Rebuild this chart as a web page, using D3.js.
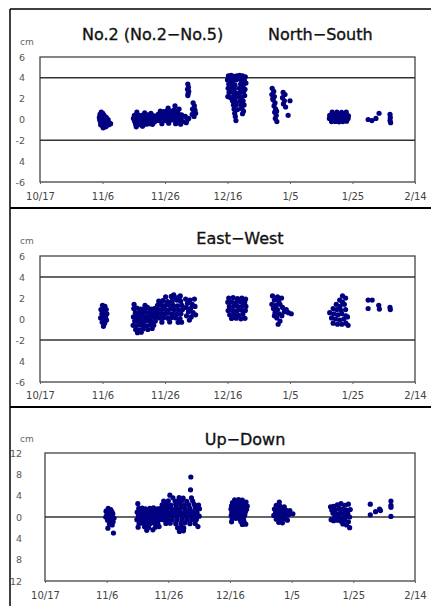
<!DOCTYPE html>
<html>
<head>
<meta charset="utf-8">
<script src="https://cdn.jsdelivr.net/npm/d3@7"></script>
<style>
  body { margin: 0; background: #fff; }
  svg { display: block; }
</style>
</head>
<body>
<script>
// 画布大小
var width = 431;
var height = 606;

// x轴：从 10/17 起的天数
var xTickDays = [0, 20, 40, 60, 80, 100, 120];
var xTickLabels = ['10/17', '11/6', '11/26', '12/16', '1/5', '1/25', '2/14'];

// y轴刻度
var hvTicks = [6, 4, 2, 0, -2, -4, -6];
var hvTickLabels = ['6', '4', '2', '0', '-2', '4', '-6'];
var udTicks = [12, 8, 4, 0, -4, -8, -12];
var udTickLabels = ['12', '8', '4', '0', '4', '8', '12'];

// [天数, cm]
var nsPoints = [
  [19.2,0.5],[19.6,0.7],[20.1,0.6],[20.5,0.4],[19.0,0.2],[19.5,0.1],[20.0,0.3],[20.8,0.1],[21.2,0.2],[19.3,-0.2],
  [19.8,-0.1],[20.4,-0.3],[21.0,-0.2],[21.6,-0.1],[22.1,-0.3],[19.4,-0.5],[20.0,-0.6],[20.6,-0.5],[21.3,-0.6],[22.0,-0.5],
  [22.6,-0.4],[20.2,-0.8],[21.0,-0.7],[19.1,0.0],[21.8,0.0],
  [30.2,0.4],[31.1,0.45],[32.0,0.38],[32.9,0.42],[33.8,0.36],[34.7,0.44],[35.6,0.4],[36.5,0.35],
  [29.9,0.1],[30.7,0.12],[31.6,0.08],[32.5,0.14],[33.4,0.1],[34.3,0.06],[35.2,0.12],[36.1,0.1],[37.0,0.15],
  [30.3,-0.2],[31.2,-0.18],[32.1,-0.24],[33.0,-0.2],[33.9,-0.16],[34.8,-0.22],[35.7,-0.2],[36.6,-0.25],[37.3,-0.1],
  [30.6,-0.45],[31.5,-0.5],[32.4,-0.42],[33.3,-0.48],[34.2,-0.44],[35.1,-0.4],[36.0,-0.46],
  [31.0,0.7],[33.5,0.65],[35.5,0.6],[30.8,-0.7],[32.8,-0.65],
  [38.5,0.8],[39.6,0.75],[40.7,0.85],[41.8,0.8],[42.9,0.9],[44.0,0.82],
  [37.8,0.5],[38.9,0.52],[40.0,0.48],[41.1,0.55],[42.2,0.5],[43.3,0.56],[44.4,0.5],[45.3,0.45],
  [37.5,0.2],[38.6,0.22],[39.7,0.18],[40.8,0.24],[41.9,0.2],[43.0,0.25],[44.1,0.2],[45.2,0.15],
  [38.2,-0.1],[39.3,-0.08],[40.4,-0.12],[41.5,-0.1],[42.6,-0.05],[43.7,-0.1],[44.8,-0.15],[45.7,-0.2],
  [39.0,-0.4],[41.2,-0.35],[43.4,-0.4],[45.0,-0.45],[43.2,1.3],[41.0,1.1],[44.5,1.0],
  [46.5,0.3],[47.0,-0.1],[47.6,0.1],[46.8,-0.3],
  [47.3,3.4],[47.5,3.1],[47.2,2.9],[47.6,2.7],[47.4,2.5],[47.3,2.3],
  [49.0,1.6],[49.4,1.3],[48.8,1.0],[49.6,0.9],[49.2,0.7],[48.7,0.5],[49.8,0.6],[49.3,0.3],
  [60.3,4.2],[61.2,4.25],[62.1,4.15],[63.0,4.2],[63.9,4.25],[64.8,4.2],[65.7,4.1],
  [60.0,3.8],[60.9,3.85],[61.8,3.75],[62.7,3.8],[63.6,3.9],[64.5,3.8],[65.4,3.75],
  [60.4,3.4],[61.3,3.45],[62.4,3.3],[64.2,3.4],[65.1,3.35],[65.9,3.5],
  [60.2,3.0],[61.5,3.05],[62.2,2.95],[63.8,3.0],[64.9,3.1],[65.6,2.9],
  [60.5,2.6],[61.4,2.65],[62.6,2.55],[64.0,2.6],[65.2,2.7],
  [60.1,2.2],[61.0,2.1],[62.0,2.25],[63.4,2.2],[64.6,2.15],[65.5,2.3],
  [61.6,1.8],[62.4,1.85],[63.9,1.75],[65.0,1.8],[61.9,1.4],[62.8,1.45],[64.3,1.35],[65.3,1.4],
  [62.1,1.0],[63.2,0.95],[64.6,1.05],[65.1,0.8],[62.3,0.6],[64.8,0.55],[62.5,0.3],[62.7,-0.1],
  [74.3,3.0],[74.8,2.7],[74.2,2.4],[75.0,2.2],[74.6,1.9],[75.2,1.6],[74.9,1.3],[75.4,1.0],[75.1,0.7],[75.6,0.4],
  [75.3,0.1],[75.8,-0.2],[74.5,2.0],[75.7,0.8],
  [77.8,2.6],[78.4,2.4],[77.6,2.1],[78.2,1.8],[77.9,1.5],[78.6,1.2],[80.0,1.8],[79.4,0.4],
  [93.5,0.7],[95.0,0.72],[96.5,0.68],[98.0,0.7],
  [92.7,0.4],[93.9,0.42],[95.1,0.38],[96.3,0.44],[97.5,0.4],[98.7,0.36],
  [92.6,0.1],[93.8,0.12],[95.0,0.08],[96.2,0.1],[97.4,0.14],[98.6,0.1],
  [93.3,-0.2],[94.5,-0.18],[95.7,-0.22],[96.9,-0.2],[98.1,-0.16],
  [105.0,0.0],[106.2,-0.1],[107.5,0.1],[108.5,0.6],[112.0,0.5],[112.1,0.2],[112.0,-0.1],[112.2,-0.3]
];

var ewPoints = [
  [20.0,1.3],[20.8,1.2],[19.5,0.9],[20.4,0.8],[21.2,0.9],[19.8,0.5],[20.6,0.4],[21.4,0.5],[19.4,0.1],[20.2,0.0],
  [21.0,0.2],[19.9,-0.3],[20.7,-0.4],[20.3,-0.7],[21.3,-0.1],
  [30.0,1.0],[31.0,1.05],[32.2,0.95],[33.3,1.0],[34.4,1.1],[35.5,0.95],[36.6,1.0],
  [30.5,0.6],[31.6,0.62],[32.7,0.58],[33.8,0.65],[34.9,0.6],[36.0,0.55],[37.1,0.6],
  [29.9,0.2],[31.0,0.22],[32.1,0.18],[33.2,0.25],[34.3,0.2],[35.4,0.15],[36.5,0.2],[37.3,0.24],
  [30.3,-0.2],[31.4,-0.18],[32.5,-0.22],[33.6,-0.2],[34.7,-0.15],[35.8,-0.25],[36.9,-0.2],
  [29.8,-0.6],[30.9,-0.62],[32.0,-0.58],[33.1,-0.6],[34.2,-0.65],[35.3,-0.55],[36.4,-0.6],
  [30.6,-1.0],[31.8,-1.05],[33.0,-0.95],[34.5,-1.0],[35.9,-0.9],[31.2,-1.3],[32.4,-1.25],
  [30.1,1.4],[33.6,1.3],
  [40.2,2.1],[42.0,2.15],[43.3,2.05],[44.6,2.1],
  [38.0,1.7],[39.3,1.75],[40.8,1.65],[42.3,1.7],[43.8,1.8],[45.0,1.7],
  [37.6,1.3],[38.8,1.32],[40.0,1.28],[41.2,1.35],[42.6,1.3],[44.0,1.25],[45.4,1.3],
  [37.9,0.9],[39.1,0.92],[40.4,0.88],[41.7,0.95],[43.0,0.9],[44.3,0.85],[45.6,0.9],
  [37.5,0.5],[38.7,0.52],[39.9,0.48],[41.1,0.55],[42.4,0.5],[43.7,0.45],[45.1,0.5],
  [38.2,0.1],[39.5,0.12],[40.9,0.08],[42.2,0.15],[43.5,0.1],[44.8,0.05],
  [39.0,-0.3],[41.5,-0.28],[44.2,-0.32],[45.3,-0.3],[42.8,2.3],[44.9,2.2],
  [46.6,1.9],[48.0,1.8],[49.4,1.9],[47.2,1.5],[48.7,1.4],[46.8,1.1],[48.2,1.0],[49.6,1.2],[47.5,0.7],[49.0,0.6],
  [46.9,0.3],[48.4,0.2],[49.8,0.4],[47.8,-0.1],
  [60.4,2.0],[61.8,2.05],[63.2,1.95],[64.6,2.0],[65.8,1.9],
  [60.1,1.6],[61.4,1.62],[62.8,1.58],[64.2,1.65],[65.5,1.6],
  [60.6,1.2],[62.0,1.22],[63.4,1.18],[64.8,1.25],[65.9,1.2],
  [60.2,0.8],[61.6,0.82],[63.0,0.78],[64.4,0.85],[65.7,0.8],
  [60.7,0.4],[62.1,0.42],[63.5,0.38],[64.9,0.45],
  [61.3,0.05],[62.8,0.08],[64.3,0.02],[65.6,0.06],
  [74.4,2.2],[76.0,2.1],[77.3,2.0],[75.0,1.8],[76.4,1.7],[74.2,1.4],[75.5,1.3],[76.8,1.4],[77.6,1.1],[74.7,1.0],
  [76.0,0.9],[75.2,0.6],[76.6,0.5],[78.2,0.7],[79.5,0.6],[80.4,0.5],[77.4,0.3],[75.8,0.1],[76.8,-0.2],[76.2,-0.5],
  [75.0,0.3],[78.8,0.9],
  [96.8,2.2],[97.8,2.0],[95.9,1.8],[96.8,1.6],[94.8,1.4],[96.0,1.2],[97.4,1.4],[93.8,1.0],[95.0,0.9],[96.4,0.8],
  [97.8,0.9],[92.7,0.6],[94.0,0.5],[95.3,0.4],[96.6,0.5],[97.9,0.3],[93.3,0.1],[94.6,0.0],[95.9,-0.1],[97.2,0.0],
  [98.4,0.2],[93.8,-0.4],[95.2,-0.5],[96.6,-0.5],[97.9,-0.4],[98.6,-0.6],
  [105.0,1.8],[106.3,1.8],[105.0,1.0],[108.4,1.3],[108.6,0.95],[112.0,1.1],[112.1,0.9]
];

var udPoints = [
  [20.5,1.6],[21.3,1.4],[19.8,1.1],[20.8,0.9],[21.7,1.0],[20.1,0.5],[21.2,0.4],[22.0,0.6],[19.7,0.0],[20.6,-0.1],
  [21.5,0.1],[22.4,-0.2],[20.3,-0.6],[21.2,-0.7],[22.1,-0.9],[20.9,-1.3],[21.8,-1.5],[20.4,-2.1],[22.2,-3.0],
  [30.1,2.5],
  [30.4,1.6],[31.5,1.65],[32.6,1.55],[34.0,1.6],[35.2,1.7],[36.5,1.55],[37.5,1.6],
  [29.9,0.9],[31.0,0.95],[32.1,0.85],[33.2,0.9],[34.4,1.0],[35.6,0.85],[36.8,0.9],[37.8,0.95],
  [30.3,0.2],[31.4,0.25],[32.5,0.15],[33.7,0.2],[34.9,0.3],[36.1,0.15],[37.3,0.2],
  [29.8,-0.5],[30.9,-0.45],[32.0,-0.55],[33.1,-0.5],[34.3,-0.4],[35.5,-0.55],[36.7,-0.5],[37.7,-0.45],
  [30.5,-1.2],[31.7,-1.15],[32.9,-1.25],[34.2,-1.2],[35.4,-1.1],[36.6,-1.25],
  [30.2,-1.9],[32.3,-1.85],[33.6,-1.95],[35.8,-1.9],[37.0,-1.8],[33.0,-2.5],[35.0,-2.4],
  [41.5,3.6],[43.5,3.65],[44.8,3.55],
  [38.5,3.0],[40.0,3.05],[42.2,2.95],[43.0,3.0],[44.4,3.1],[46.0,2.95],[47.9,3.0],
  [38.0,2.3],[39.4,2.35],[40.8,2.25],[42.4,2.3],[43.8,2.4],[45.2,2.25],[46.6,2.3],[48.4,2.35],[49.8,2.25],
  [38.3,1.6],[39.7,1.65],[41.1,1.55],[42.6,1.6],[44.0,1.7],[45.5,1.55],[47.0,1.6],[48.8,1.65],[50.1,1.55],
  [38.1,0.9],[39.5,0.95],[40.9,0.85],[42.3,0.9],[43.7,1.0],[45.1,0.85],[46.5,0.9],[47.9,0.95],[49.3,0.85],
  [38.6,0.2],[40.0,0.25],[41.4,0.15],[42.8,0.2],[44.2,0.3],[45.7,0.15],[47.2,0.2],[48.6,0.25],[50.0,0.15],
  [38.4,-0.5],[39.8,-0.45],[41.3,-0.55],[42.9,-0.5],[44.5,-0.4],[46.1,-0.55],[47.6,-0.5],[49.1,-0.45],
  [39.2,-1.2],[40.6,-1.15],[42.4,-1.25],[44.1,-1.2],[45.4,-1.1],[47.0,-1.25],[48.7,-1.2],
  [43.0,-2.0],[44.3,-1.95],[45.0,-2.05],[43.6,-2.7],[44.9,-2.6],
  [40.5,4.1],[47.3,7.5],[47.2,5.1],[47.5,3.6],[49.6,-1.8],
  [61.5,3.2],[62.8,3.25],[64.0,3.15],
  [60.8,2.7],[61.9,2.75],[63.0,2.65],[64.2,2.7],[65.2,2.8],
  [60.5,2.1],[61.6,2.15],[62.7,2.05],[63.8,2.1],[64.9,2.2],[65.6,2.05],
  [60.3,1.5],[61.4,1.55],[62.5,1.45],[63.6,1.5],[64.7,1.6],[65.4,1.45],
  [60.6,0.9],[61.7,0.95],[62.8,0.85],[63.9,0.9],[65.0,1.0],
  [60.4,0.3],[61.5,0.35],[62.6,0.25],[63.7,0.3],[64.8,0.4],
  [60.7,-0.3],[61.9,-0.25],[63.1,-0.35],[64.4,-0.3],
  [60.5,-0.9],[63.5,-0.85],[64.6,-0.95],[64.0,-1.4],[65.1,-1.35],
  [76.0,2.8],[75.0,2.2],[76.3,2.0],[77.6,1.9],[74.4,1.5],[75.6,1.4],[76.8,1.5],[78.1,1.3],[79.4,1.2],[74.8,0.9],
  [76.0,0.8],[77.2,0.9],[78.5,0.7],[80.4,0.6],[74.2,0.3],[75.4,0.2],[76.6,0.3],[77.8,0.1],[79.0,0.4],[75.0,-0.4],
  [76.2,-0.5],[77.4,-0.3],[75.8,-1.0],[77.0,-1.1],[78.6,-0.6],
  [92.6,1.9],[93.6,2.0],[94.8,2.3],[96.0,2.5],[97.2,2.2],[98.4,2.4],[93.0,1.3],[94.2,1.4],[95.4,1.6],[96.6,1.5],
  [97.8,1.3],[99.0,1.4],[93.4,0.7],[94.6,0.6],[95.8,0.8],[97.0,0.7],[98.2,0.6],[94.0,0.0],[95.2,0.1],[96.4,-0.1],
  [97.6,0.1],[98.8,0.0],[93.6,-0.7],[94.8,-0.6],[96.0,-0.8],[97.2,-0.6],[98.4,-0.9],[96.6,-1.3],[97.8,-1.5],[98.8,-2.0],
  [92.8,-0.5],
  [105.5,2.4],[105.5,0.4],[107.2,1.0],[108.5,1.5],[108.8,1.2],[112.2,3.0],[112.2,2.2],[112.2,1.8],[112.2,0.1]
];

var startTime = Date.UTC(2008, 9, 17);
function toDate(d) {
  return new Date(startTime + d * 864e5);
}

var panels = [
  { points: nsPoints, yDomain: [-6, 6], yTicks: hvTicks, yLabels: hvTickLabels, refs: [4, -2],
    left: 40, right: 415, top: 57, bottom: 182, labelEnd: 25, cmY: 45, xLabelY: 201 },
  { points: ewPoints, yDomain: [-6, 6], yTicks: hvTicks, yLabels: hvTickLabels, refs: [4, -2],
    left: 40, right: 415, top: 256, bottom: 382, labelEnd: 25, cmY: 244, xLabelY: 400,
    title: 'East\u2212West', titleX: 240, titleY: 244 },
  { points: udPoints, yDomain: [-12, 12], yTicks: udTicks, yLabels: udTickLabels, refs: [0],
    left: 45, right: 415, top: 453, bottom: 581, labelEnd: 22, cmY: 442, xLabelY: 600,
    title: 'Up\u2212Down', titleX: 245, titleY: 445 }
];

var svg = d3.select('body')
  .append('svg')
  .attr('width', width)
  .attr('height', height);

// 外框
svg.append('line').attr('x1', 10).attr('x2', 10).attr('y1', 9).attr('y2', height)
  .attr('stroke', '#000').attr('stroke-width', 1.5);
[9, 208, 407].forEach(function(y, i) {
  svg.append('line').attr('x1', 10).attr('x2', width).attr('y1', y).attr('y2', y)
    .attr('stroke', '#000').attr('stroke-width', i === 0 ? 1.5 : 2.2);
});

function titleText(sel) {
  sel.attr('font-family', 'DejaVu Sans').attr('font-size', 16)
    .attr('fill', '#111').attr('stroke', '#111').attr('stroke-width', 0.35);
}

// 第一张图的标题
svg.append('text').attr('x', 82).attr('y', 39.5)
  .call(titleText)
  .text('No.2 (No.2\u2212No.5)');
svg.append('text').attr('x', 268).attr('y', 39.5)
  .call(titleText)
  .text('North\u2212South');

panels.forEach(function(p) {
  var x = d3.scaleUtc()
    .domain([toDate(0), toDate(120)])
    .range([p.left, p.right]);
  var y = d3.scaleLinear()
    .domain(p.yDomain)
    .range([p.bottom, p.top]);

  var g = svg.append('g');

  if (p.title) {
    g.append('text').attr('x', p.titleX).attr('y', p.titleY)
      .attr('text-anchor', 'middle')
      .call(titleText)
      .text(p.title);
  }

  g.append('text').attr('x', 20).attr('y', p.cmY)
    .attr('font-family', 'DejaVu Sans').attr('font-size', 9).attr('fill', '#666')
    .text('cm');

  // 绘图区边框
  g.append('rect')
    .attr('x', p.left).attr('y', p.top)
    .attr('width', p.right - p.left).attr('height', p.bottom - p.top)
    .attr('fill', 'none').attr('stroke', '#444').attr('stroke-width', 1.3);

  g.selectAll('.ref')
    .data(p.refs)
    .enter()
    .append('line')
    .attr('x1', p.left).attr('x2', p.right)
    .attr('y1', function(d) { return y(d); })
    .attr('y2', function(d) { return y(d); })
    .attr('stroke', '#333').attr('stroke-width', 1.5);

  // y轴
  var yAxis = d3.axisLeft(y)
    .tickValues(p.yTicks)
    .tickSize(0)
    .tickPadding(p.left - p.labelEnd)
    .tickFormat(function(d, i) { return p.yLabels[i]; });
  var ya = g.append('g').attr('transform', 'translate(' + p.left + ',0)').call(yAxis);
  ya.select('.domain').remove();
  ya.selectAll('text').attr('font-family', 'DejaVu Sans').attr('font-size', 9.5).attr('fill', '#555');

  // x轴
  var xAxis = d3.axisBottom(x)
    .tickValues(xTickDays.map(toDate))
    .tickSize(2)
    .tickPadding(p.xLabelY - p.bottom - 10)
    .tickFormat(function(d, i) { return xTickLabels[i]; });
  var xa = g.append('g').attr('transform', 'translate(0,' + p.bottom + ')').call(xAxis);
  xa.select('.domain').remove();
  xa.selectAll('line').attr('stroke', '#666');
  xa.selectAll('text').attr('font-family', 'DejaVu Sans').attr('font-size', 10).attr('fill', '#444');

  // 散点
  g.selectAll('circle')
    .data(p.points)
    .enter()
    .append('circle')
    .attr('cx', function(d) { return x(toDate(d[0])); })
    .attr('cy', function(d) { return y(d[1]); })
    .attr('r', 2.6)
    .attr('fill', '#000080');
});
</script>
</body>
</html>
